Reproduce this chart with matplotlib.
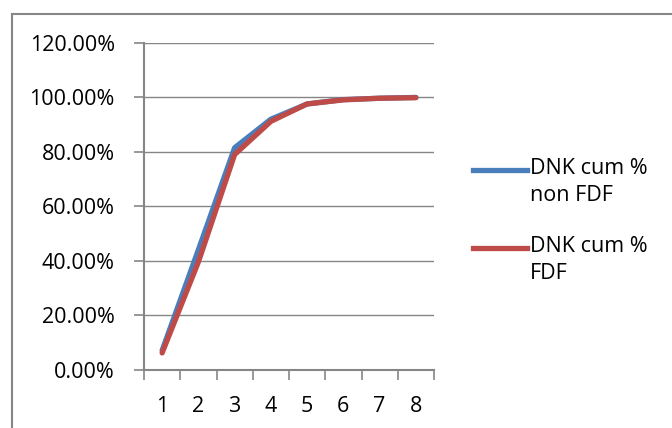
import matplotlib
matplotlib.use("Agg")
import matplotlib.pyplot as plt
from matplotlib.lines import Line2D

categories = [1, 2, 3, 4, 5, 6, 7, 8]
non_fdf = [7.0, 44.0, 81.5, 92.0, 97.6, 99.2, 99.7, 100.0]
fdf = [6.1, 39.5, 79.0, 91.2, 97.6, 99.1, 99.7, 99.9]
series_names = ["DNK cum %\nnon FDF", "DNK cum %\nFDF"]
yticks = [0, 20, 40, 60, 80, 100, 120]

plt.rcParams['font.family'] = ['Open Sans', 'DejaVu Sans']
FS = 15.5

fig = plt.figure(figsize=(6.72, 4.28), dpi=100)
ax = fig.add_axes([144/672, 1-369.5/428, (434-144)/672, (369.5-43)/428])

grey = "#868686"
blue = "#4A7EBB"
red = "#BE4B48"

ax.plot(categories, non_fdf, color=blue, lw=3.8, solid_capstyle='round', zorder=3)
ax.plot(categories, fdf, color=red, lw=3.8, solid_capstyle='round', zorder=4)

ax.set_xlim(0.5, 8.5)
ax.set_ylim(0, 120)
ax.set_yticks(yticks)
ax.set_yticklabels([f"{v:.2f}%" for v in yticks])
ax.set_xticks(categories)
ax.set_xticks([c + 0.5 for c in [0] + categories], minor=True)
ax.set_xticklabels([str(c) for c in categories])
ax.tick_params(axis='x', which='major', length=0, pad=19, labelsize=FS)
ax.tick_params(axis='x', which='minor', length=7, color=grey, width=1.2, direction='out')
ax.tick_params(axis='y', length=7, color=grey, width=1.2, pad=14, labelsize=FS)

ax.grid(axis='y', color=grey, lw=1.0)
ax.set_axisbelow(True)
for s in ['top', 'right']:
    ax.spines[s].set_visible(False)
for s in ['left', 'bottom']:
    ax.spines[s].set_color(grey)
    ax.spines[s].set_linewidth(1.5)

# legend drawn manually
for name, color, yl in [(series_names[0], blue, 170), (series_names[1], red, 248)]:
    fig.add_artist(Line2D([473/672, 527/672], [1-yl/428, 1-yl/428], color=color, lw=3.8))
    fig.text(530/672, 1-(yl-12)/428, name, fontsize=FS, va='top', ha='left', linespacing=1.38)

# outer frame (top and left visible)
fig.add_artist(Line2D([12/672, 1.0], [1-13.5/428, 1-13.5/428], color=grey, lw=1.5))
fig.add_artist(Line2D([12/672, 12/672], [1-13.5/428, 0], color=grey, lw=1.5))

fig.savefig("out.png", dpi=100)
